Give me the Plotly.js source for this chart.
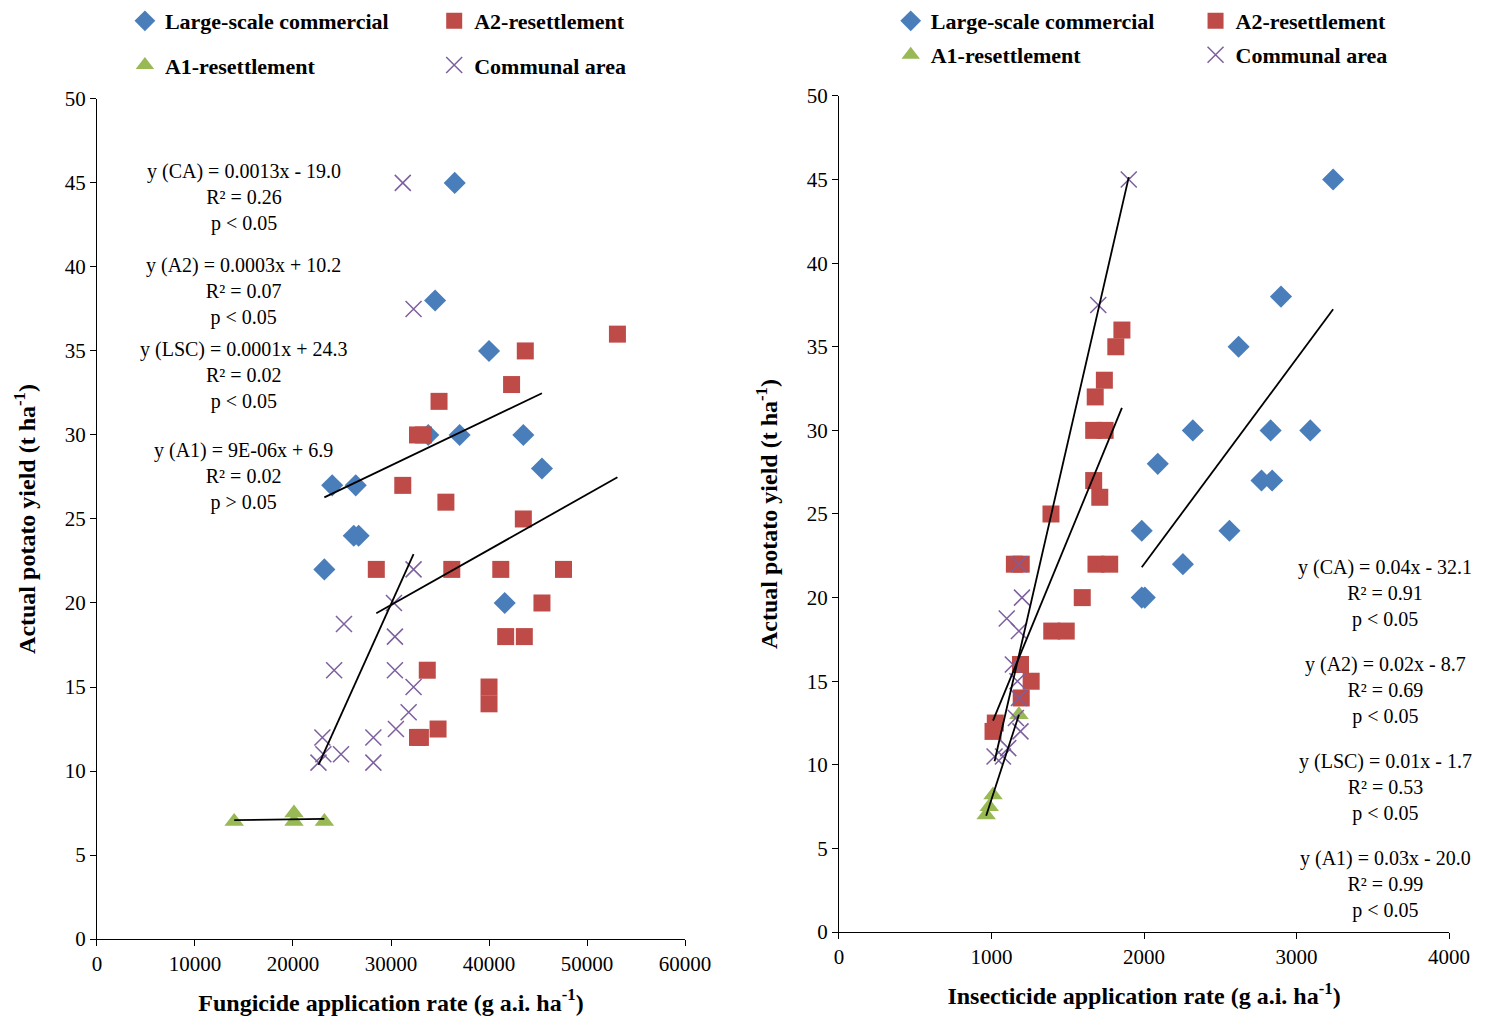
<!DOCTYPE html>
<html>
<head>
<meta charset="utf-8">
<script src="https://cdn.plot.ly/plotly-3.0.1.min.js"></script>
<style>html,body{margin:0;padding:0;background:#fff}#chart{width:1487px;height:1027px}</style>
</head>
<body>
<div id="chart"></div>
<script>
// Fungicide panel (left)
const fLscX = [36500, 34500, 40000, 33800, 37000, 43500, 24000, 26400, 45400, 26200, 26700, 23200, 41600];
const fLscY = [45, 38, 35, 30, 30, 30, 27, 27, 28, 24, 24, 22, 20];
const fA2X = [53100, 43700, 42300, 34900, 32700, 33300, 31200, 35600, 43500, 28500, 36200, 41200, 47600, 45400, 41700, 43600, 33700, 40000, 40000, 34800, 32700, 33000];
const fA2Y = [36, 35, 33, 32, 30, 30, 27, 26, 25, 22, 22, 22, 22, 20, 18, 18, 16, 15, 14, 12.5, 12, 12];
const fA1X = [14000, 20100, 20100, 23200];
const fA1Y = [7, 7.5, 7, 7];
const fCaX = [31200, 32300, 32300, 30300, 25200, 30400, 24200, 30400, 32300, 31800, 28200, 30500, 23000, 22600, 23100, 24900, 28200];
const fCaY = [45, 37.5, 22, 20, 18.75, 18, 16, 16, 15, 13.5, 12, 12.5, 12, 10.5, 11, 11, 10.5];

// Insecticide panel (right)
const iLscX = [3240, 2898, 2620, 2320, 3090, 2830, 2090, 2770, 2840, 1985, 2560, 2255, 1985, 2005];
const iLscY = [45, 38, 35, 30, 30, 30, 28, 27, 27, 24, 24, 22, 20, 20];
const iA2X = [1855, 1815, 1740, 1680, 1670, 1745, 1670, 1710, 1390, 1150, 1195, 1685, 1775, 1595, 1395, 1490, 1190, 1195, 1260, 1025, 1010];
const iA2Y = [36, 35, 33, 32, 30, 30, 27, 26, 25, 22, 22, 22, 22, 20, 18, 18, 16, 14, 15, 12.5, 12];
const iA1X = [965, 985, 1010, 1180];
const iA1Y = [7, 7.5, 8.2, 13];
const iCaX = [1900, 1700, 1180, 1200, 1100, 1180, 1140, 1170, 1180, 1160, 1190, 1020, 1075, 1110];
const iCaY = [45, 37.5, 22, 20, 18.75, 18, 16, 15, 14, 12.8, 12, 10.5, 10.5, 11];

const groups = ["Large-scale commercial", "A2-resettlement", "A1-resettlement", "Communal area"];
const fEq = [
  "y (CA) = 0.0013x - 19.0<br>R² = 0.26<br>p < 0.05",
  "y (A2) = 0.0003x + 10.2<br>R² = 0.07<br>p < 0.05",
  "y (LSC) = 0.0001x + 24.3<br>R² = 0.02<br>p < 0.05",
  "y (A1) = 9E-06x + 6.9<br>R² = 0.02<br>p > 0.05"
];
const iEq = [
  "y (CA) = 0.04x - 32.1<br>R² = 0.91<br>p < 0.05",
  "y (A2) = 0.02x - 8.7<br>R² = 0.69<br>p < 0.05",
  "y (LSC) = 0.01x - 1.7<br>R² = 0.53<br>p < 0.05",
  "y (A1) = 0.03x - 20.0<br>R² = 0.99<br>p < 0.05"
];

const FONT = "Liberation Serif, Times New Roman, serif";
const styles = [
  { symbol: "diamond", color: "#4a7ebb", size: 17 },
  { symbol: "square", color: "#be4b48", size: 17 },
  { symbol: "triangle-up", color: "#98b954", size: 17 },
  { symbol: "x-thin-open", color: "#7d5fa0", size: 16 }
];

function fit(xs, ys) {
  const n = xs.length;
  const mx = xs.reduce((a, b) => a + b, 0) / n;
  const my = ys.reduce((a, b) => a + b, 0) / n;
  let sxy = 0, sxx = 0;
  for (let i = 0; i < n; i++) { sxy += (xs[i] - mx) * (ys[i] - my); sxx += (xs[i] - mx) ** 2; }
  const b = sxy / sxx, a = my - b * mx;
  const x0 = Math.min(...xs), x1 = Math.max(...xs);
  return { x: [x0, x1], y: [a + b * x0, a + b * x1] };
}

const traces = [];
function addPanel(sets, xa, ya, legendOffset) {
  sets.forEach(([xs, ys], i) => {
    const s = styles[i];
    const n = legendOffset + i + 1;
    traces.push({
      x: xs, y: ys, type: "scatter", mode: "markers", name: groups[i],
      xaxis: xa, yaxis: ya, legend: n === 1 ? "legend" : "legend" + n,
      marker: { symbol: s.symbol, color: s.color, size: s.size, line: { color: s.color, width: i === 3 ? 1.5 : 0 } }
    });
  });
  sets.forEach(([xs, ys]) => {
    const f = fit(xs, ys);
    traces.push({ x: f.x, y: f.y, type: "scatter", mode: "lines", xaxis: xa, yaxis: ya,
      showlegend: false, hoverinfo: "skip", line: { color: "#000", width: 1.8 } });
  });
}
addPanel([[fLscX, fLscY], [fA2X, fA2Y], [fA1X, fA1Y], [fCaX, fCaY]], "x", "y", 0);
addPanel([[iLscX, iLscY], [iA2X, iA2Y], [iA1X, iA1Y], [iCaX, iCaY]], "x2", "y2", 4);

const axisBase = {
  showgrid: false, zeroline: false, showline: true, linecolor: "#000", linewidth: 1, tickformat: "d",
  ticks: "outside", ticklen: 6, tickcolor: "#000", tickfont: { family: FONT, size: 21, color: "#000" }
};
const titleFont = { family: FONT, size: 24, color: "#000", weight: "bold" };

// legend anchor points (paper coords): LSC, A2, A1, CA for each panel
const legPos = [
  [0.084, 1.001], [0.292, 1.001], [0.084, 0.957], [0.292, 0.957],
  [0.599, 1.000], [0.804, 1.000], [0.599, 0.967], [0.804, 0.967]
];

const annotations = [];
const fY = [46.5, 40.9, 35.9, 29.9];
fEq.forEach((t, i) => annotations.push({ text: t, xref: "x", yref: "y", x: 15000, y: fY[i], yanchor: "top",
  showarrow: false, align: "center", font: { family: FONT, size: 20, color: "#000" } }));
const iY = [22.6, 16.8, 11, 5.2];
iEq.forEach((t, i) => annotations.push({ text: t, xref: "x2", yref: "y2", x: 3580, y: iY[i], yanchor: "top",
  showarrow: false, align: "center", font: { family: FONT, size: 20, color: "#000" } }));

const layout = {
  width: 1487, height: 1027, margin: { l: 0, r: 0, t: 0, b: 0 },
  paper_bgcolor: "#fff", plot_bgcolor: "#fff", showlegend: true,
  xaxis: Object.assign({}, axisBase, { domain: [0.0652, 0.4607], range: [0, 60000], dtick: 10000,
    title: { text: "Fungicide application rate (g a.i. ha<sup>-1</sup>)", font: titleFont, standoff: 18 } }),
  yaxis: Object.assign({}, axisBase, { domain: [0.0857, 0.9046], range: [0, 50], dtick: 5,
    title: { text: "Actual potato yield (t ha<sup>-1</sup>)", font: titleFont, standoff: 22 } }),
  xaxis2: Object.assign({}, axisBase, { domain: [0.5642, 0.9745], range: [0, 4000], dtick: 1000, anchor: "y2",
    title: { text: "Insecticide application rate (g a.i. ha<sup>-1</sup>)", font: titleFont, standoff: 18 } }),
  yaxis2: Object.assign({}, axisBase, { domain: [0.0925, 0.9075], range: [0, 50], dtick: 5, anchor: "x2",
    title: { text: "Actual potato yield (t ha<sup>-1</sup>)", font: titleFont, standoff: 22 } }),
  annotations: annotations
};
legPos.forEach((p, i) => {
  layout[i === 0 ? "legend" : "legend" + (i + 1)] = {
    x: p[0], y: p[1], xanchor: "left", yanchor: "top", bgcolor: "rgba(0,0,0,0)",
    itemwidth: 30, font: { family: FONT, size: 22, color: "#000", weight: "bold" }
  };
});

Plotly.newPlot("chart", traces, layout, { displayModeBar: false });
</script>
</body>
</html>
